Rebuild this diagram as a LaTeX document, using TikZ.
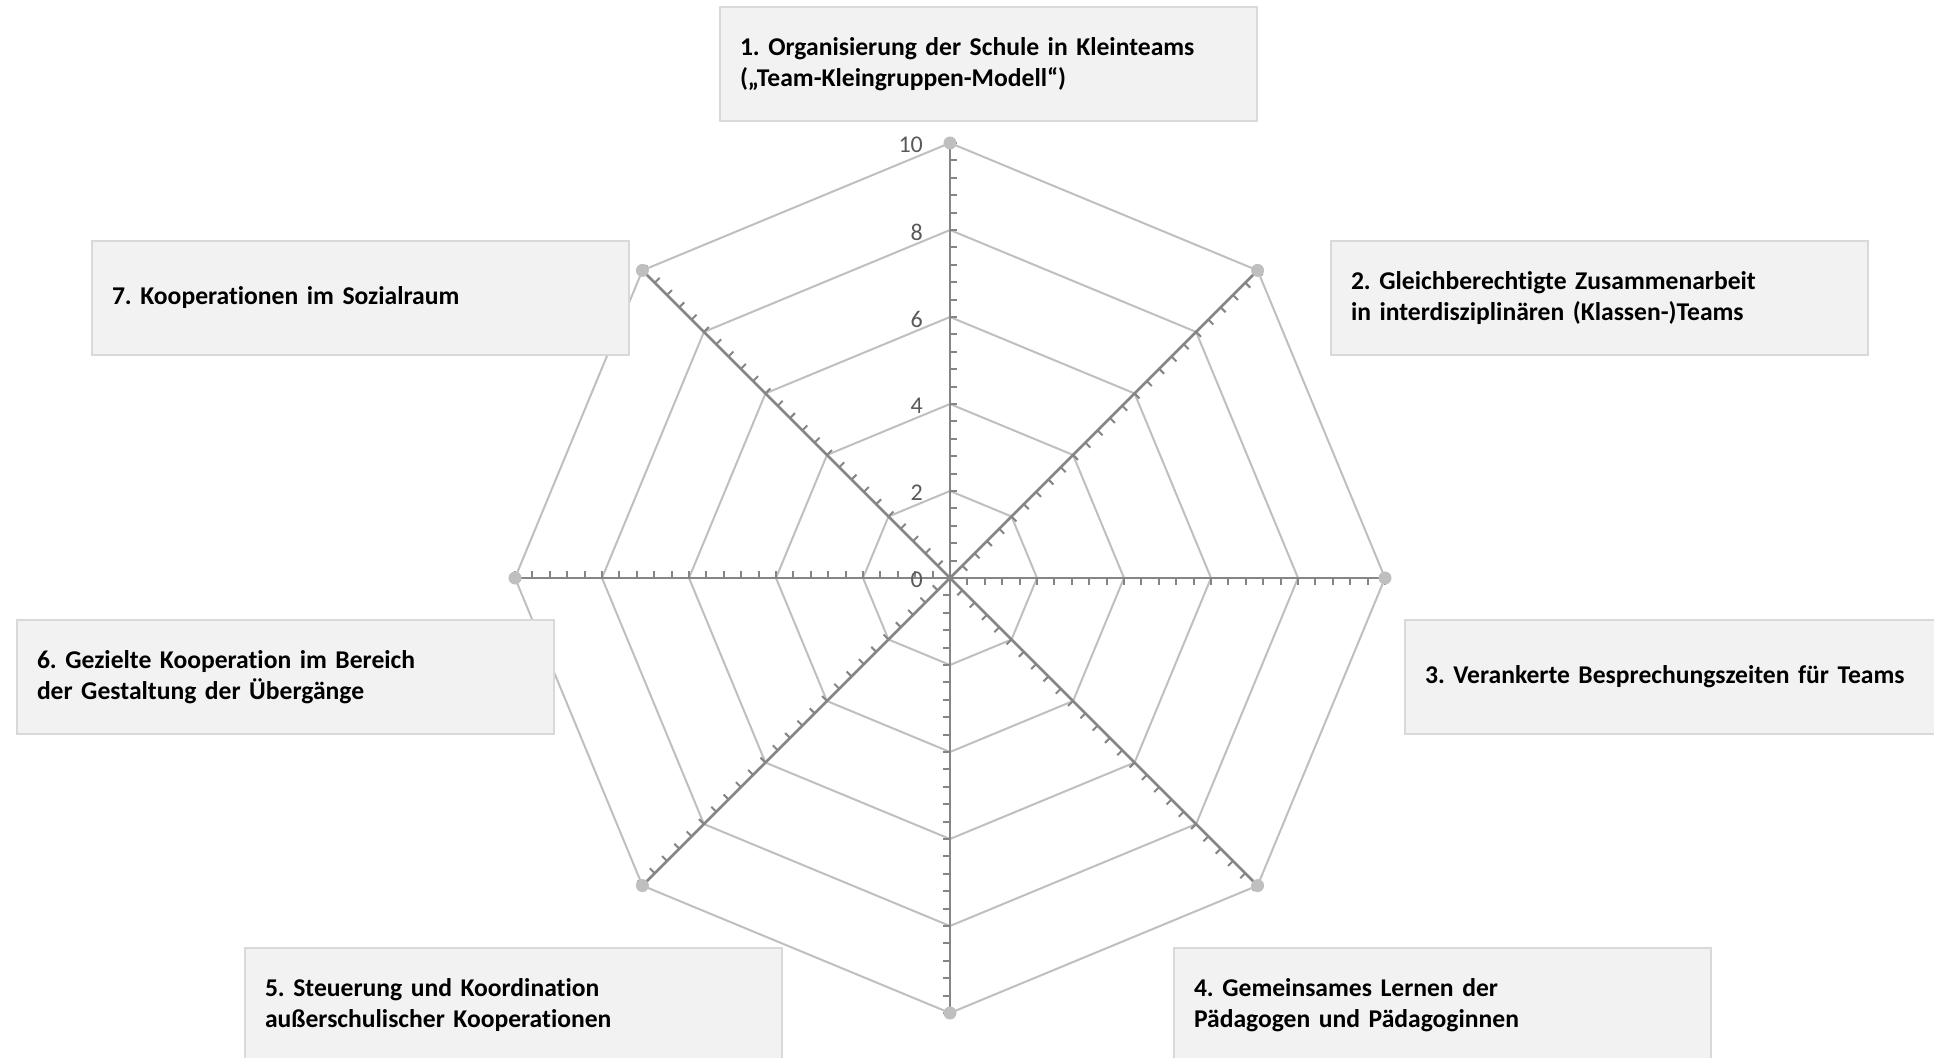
\documentclass[tikz,border=0pt]{standalone}
\usepackage{fontspec}
\setmainfont{Carlito}[Ligatures=NoCommon]
\frenchspacing
\usetikzlibrary{positioning}
\definecolor{boxfill}{HTML}{F2F2F2}
\definecolor{boxline}{HTML}{D9D9D9}
\definecolor{gridgray}{HTML}{BFBFBF}
\definecolor{axisgray}{HTML}{858585}
\definecolor{numgray}{HTML}{595959}
\tikzset{
labelbox/.style = {draw=boxline, line width=2pt, fill=boxfill, anchor=north west,
  text width=497pt, inner xsep=20pt, inner ysep=0pt, minimum height=114pt,
  align=left, font=\fontsize{25.6}{31}\selectfont\bfseries},
gridline/.style = {gridgray, line width=2pt, line join=round},
spoke/.style = {axisgray, line width=2.6pt},
tickmark/.style = {axisgray, line width=2pt},
marker/.style = {circle, fill=gridgray, inner sep=0pt, minimum size=13pt},
scalelabel/.style = {numgray, anchor=east, inner sep=0pt, font=\fontsize{24}{28}\selectfont}
}

\begin{document}
\begin{tikzpicture}[x=1pt, y=1pt]
\useasboundingbox (0,0) rectangle (1934,1057);
\begin{scope}[shift={(950,479)}, x=43.5pt, y=43.5pt]
  \coordinate (c) at (0,0);
  % web
  \foreach \v in {2,4,...,10}
    \draw[gridline] (90:\v) \foreach \a in {45,0,...,-225} { -- (\a:\v) } -- cycle;
  % spokes with ticks
  \foreach \a [count=\i] in {90,45,0,-45,-90,-135,180,135} {
    \coordinate (a\i) at (\a:10);
    \draw[spoke] (c) -- (a\i);
    \foreach \k [evaluate=\k as \r using 0.4*\k] in {1,...,25}
      \draw[tickmark] (\a:\r) -- ++(\a-90:7pt);
  }
  \foreach \i in {1,...,8}
    \node[marker] (m\i) at (a\i) {};
  \foreach \v in {0,2,...,10}
    \node[scalelabel] (s\v) at ([yshift=-2pt]-0.62,\v) {\v};
\end{scope}

\node[labelbox] (box1) at (719,1051) {1. Organisierung der Schule in Kleinteams\\(„Team-Kleingruppen-Modell“)};
\node[labelbox] (box2) at (1330,817) {2. Gleichberechtigte Zusammenarbeit\\in interdisziplinären (Klassen-)Teams};
\node[labelbox] (box3) at (1404,438) {3. Verankerte Besprechungszeiten für Teams};
\node[labelbox] (box4) at (1173,110) {4. Gemeinsames Lernen der\\Pädagogen und Pädagoginnen};
\node[labelbox] (box5) at (244,110) {5. Steuerung und Koordination\\außerschulischer Kooperationen};
\node[labelbox] (box6) at (16,438) {6. Gezielte Kooperation im Bereich\\der Gestaltung der Übergänge};
\node[labelbox] (box7) at (91,817) {7. Kooperationen im Sozialraum};
\end{tikzpicture}
\end{document}
